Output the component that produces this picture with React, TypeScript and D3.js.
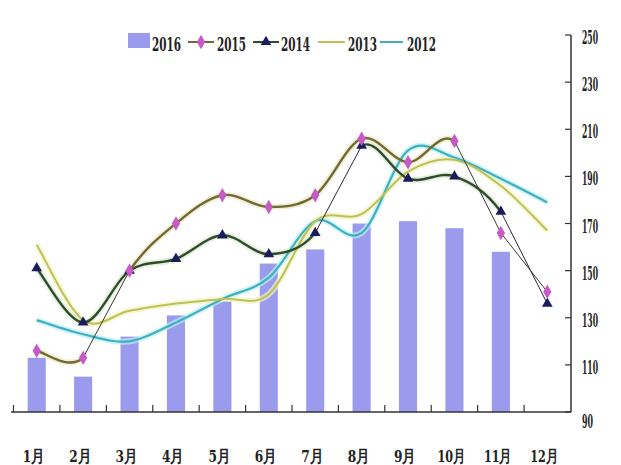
import React from 'react';
import * as d3 from 'd3';

const months = ['1月', '2月', '3月', '4月', '5月', '6月', '7月', '8月', '9月', '10月', '11月', '12月'];
const sales2016: (number | null)[] = [113, 105, 122, 131, 137, 153, 159, 170, 171, 168, 158, null];
const series2015 = [116, 113, 150, 170, 182, 177, 182, 206, 196, 205, 166, 141];
const series2014 = [151, 128, 150, 155, 165, 157, 166, 203, 189, 190, 175, 136];
const series2013 = [161, 129, 133, 136, 138, 140, 171, 174, 192, 197, 186, 167];
const series2012 = [129, 123, 120, 128, 138, 147, 171, 166, 201, 198, 189, 179];
const yTicks = [90, 110, 130, 150, 170, 190, 210, 230, 250];
const legendLabels = ['2016', '2015', '2014', '2013', '2012'];
// segments (start index) drawn as thin straight connectors
const thin2015 = [1, 9, 10];
const thin2014 = [6, 10];

const FONT = "'DejaVu Serif Condensed', 'DejaVu Serif', serif";
const BAR = '#9b9bee';
const C2015 = '#6e6a32';
const C2015M = '#c85ac8';
const C2014 = '#2f4a2c';
const C2014M = '#1c1c5c';
const C2013 = '#bcc05a';
const C2012 = '#3fb0bf';

export default function App() {
  const x = d3.scaleBand<string>().domain(months).range([13.5, 570.5]);
  const y = d3.scaleLinear().domain([90, 250]).range([412, 35]);
  const step = x.step();
  const barW = step * 0.39;
  const cx = (i: number) => (x(months[i]) as number) + step / 2;

  // smooth path built segment by segment (Catmull-Rom), skipping "thin" segments
  const smoothPath = (data: number[], skip: number[] = []) => {
    const pts = data.map((v, i) => [cx(i), y(v)]);
    const n = pts.length;
    let d = '';
    let pen = false;
    for (let i = 0; i < n - 1; i++) {
      if (skip.includes(i)) {
        pen = false;
        continue;
      }
      const p0 = pts[Math.max(0, i - 1)];
      const p1 = pts[i];
      const p2 = pts[i + 1];
      const p3 = pts[Math.min(n - 1, i + 2)];
      const c1 = [p1[0] + (p2[0] - p0[0]) / 6, p1[1] + (p2[1] - p0[1]) / 6];
      const c2 = [p2[0] - (p3[0] - p1[0]) / 6, p2[1] - (p3[1] - p1[1]) / 6];
      if (!pen) d += `M${p1[0]},${p1[1]}`;
      d += `C${c1[0]},${c1[1]} ${c2[0]},${c2[1]} ${p2[0]},${p2[1]}`;
      pen = true;
    }
    return d;
  };
  const straight = (data: number[], segs: number[]) =>
    segs.map((i) => `M${cx(i)},${y(data[i])}L${cx(i + 1)},${y(data[i + 1])}`).join('');

  const diamond = d3.symbol().type(d3.symbolDiamond).size(60)() as string;
  const triangle = d3.symbol().type(d3.symbolTriangle).size(50)() as string;

  const lines = [
    { d: smoothPath(series2012), color: C2012, halo: '#bff0f5', w: 2.2 },
    { d: smoothPath(series2013), color: C2013, halo: '#f3f5c0', w: 2 },
    { d: smoothPath(series2014, thin2014), color: C2014, halo: '#d8e8d0', w: 2.4 },
    { d: smoothPath(series2015, thin2015), color: C2015, halo: '#f0e6c8', w: 2.4 },
  ];

  const textStyle = { fontFamily: FONT, fontWeight: 'bold' as const, fill: '#222' };

  return (
    <svg width={621} height={465} style={{ position: 'absolute', left: 0, top: 0, background: '#fff' }}>
      <rect x={0} y={0} width={621} height={465} fill="#fff" />
      {/* bars */}
      {sales2016.map((v, i) =>
        v == null ? null : (
          <rect key={'b' + i} x={cx(i) - barW / 2} y={y(v)} width={barW} height={y(90) - y(v)} fill={BAR} />
        )
      )}
      {/* line halos */}
      {lines.map((l, k) => (
        <path key={'h' + k} d={l.d} fill="none" stroke={l.halo} strokeWidth={6} strokeOpacity={0.7} />
      ))}
      {lines.map((l, k) => (
        <path key={'l' + k} d={l.d} fill="none" stroke={l.color} strokeWidth={l.w} />
      ))}
      <path d={straight(series2015, thin2015)} fill="none" stroke="#3a3a2a" strokeWidth={1} />
      <path d={straight(series2014, thin2014)} fill="none" stroke="#2a2a3a" strokeWidth={1} />
      {/* markers */}
      {series2014.map((v, i) => (
        <path key={'t' + i} d={triangle} transform={`translate(${cx(i)},${y(v)})`} fill={C2014M} />
      ))}
      {series2015.map((v, i) => (
        <path key={'d' + i} d={diamond} transform={`translate(${cx(i)},${y(v)})`} fill={C2015M} />
      ))}
      {/* bottom axis */}
      <line x1={11} x2={571} y1={412} y2={412} stroke="#333" strokeWidth={1.5} />
      {months.map((m, i) => (
        <line key={'xt' + i} x1={x(m) as number} x2={x(m) as number} y1={412} y2={405} stroke="#333" strokeWidth={1.2} />
      ))}
      {months.map((m, i) => (
        <text
          key={'xl' + i}
          x={cx(i) - 3}
          y={462}
          textAnchor="middle"
          fontSize={17}
          {...textStyle}
          textLength={m.length > 2 ? 28 : 22}
          lengthAdjust="spacingAndGlyphs"
        >
          {m}
        </text>
      ))}
      {/* right axis */}
      <line x1={571} x2={571} y1={35} y2={412} stroke="#333" strokeWidth={1.5} />
      {yTicks.map((t) => (
        <line key={'yt' + t} x1={565} x2={571} y1={y(t)} y2={y(t)} stroke="#333" strokeWidth={1.2} />
      ))}
      {yTicks.map((t) => (
        <text
          key={'yl' + t}
          x={582}
          y={y(t) + (t === 90 ? 16 : 9)}
          fontSize={19}
          {...textStyle}
          textLength={t >= 100 ? 16 : 11}
          lengthAdjust="spacingAndGlyphs"
        >
          {t}
        </text>
      ))}
      {/* legend */}
      <rect x={128} y={33} width={22} height={15} fill={BAR} />
      <line x1={188} x2={214} y1={42} y2={42} stroke={C2015} strokeWidth={2} />
      <path d={diamond} transform="translate(201,42)" fill={C2015M} />
      <line x1={253} x2={279} y1={42} y2={42} stroke={C2014} strokeWidth={2} />
      <path d={triangle} transform="translate(266,42)" fill={C2014M} />
      <line x1={318} x2={345} y1={42} y2={42} stroke={C2013} strokeWidth={2} />
      <line x1={380} x2={403} y1={42} y2={42} stroke={C2012} strokeWidth={2} />
      {legendLabels.map((lab, i) => (
        <text
          key={'lg' + i}
          x={[152, 217, 281, 348, 407][i]}
          y={51}
          fontSize={18}
          {...textStyle}
          textLength={29}
          lengthAdjust="spacingAndGlyphs"
        >
          {lab}
        </text>
      ))}
    </svg>
  );
}
